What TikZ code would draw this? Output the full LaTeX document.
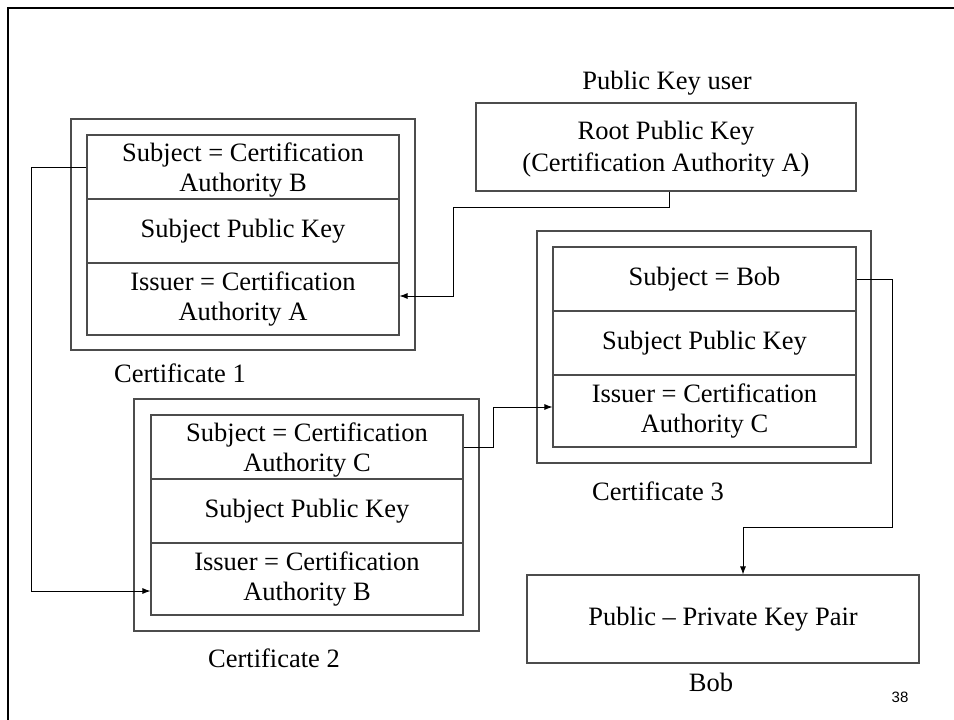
\documentclass[tikz,border=0pt]{standalone}
\usepackage{fontspec}
\setmainfont{Liberation Serif}
\newfontfamily\numfont{Liberation Sans}
\usetikzlibrary{arrows.meta,calc}
\begin{document}
\begin{tikzpicture}[x=1pt,y=-1pt,
  boxline/.style={draw=black!70,line width=1.1pt},
  outerbox/.style={boxline,rectangle,inner sep=0pt},
  rowbox/.style={boxline,rectangle,inner sep=0pt,align=center,font=\fontsize{26.5}{30}\selectfont},
  plain/.style={inner sep=0pt,align=center,font=\fontsize{26.5}{30}\selectfont},
  arr/.style={draw=black,line width=0.9pt,-{Latex[length=8pt,width=6pt]}},
  conn/.style={draw=black,line width=0.9pt}]
\useasboundingbox (0,0) rectangle (954,720);
% slide frame
\draw[line width=2.6pt] (954,8) -- (8,8) -- (8,720);

% Certificate 1
\node[outerbox,minimum width=344pt,minimum height=231pt] (c1o) at (243,234.5) {};
\node[rowbox,minimum width=312pt,minimum height=64pt] (c1s) at (243,167) {\rule{0pt}{24pt}Subject = Certification\\Authority B};
\node[rowbox,minimum width=312pt,minimum height=64pt] (c1k) at (243,231) {Subject Public Key};
\node[rowbox,minimum width=312pt,minimum height=72pt] (c1i) at (243,299) {Issuer = Certification\\Authority A};
\node[plain] (c1l) at (180,373) {Certificate 1};

% Certificate 2
\node[outerbox,minimum width=345pt,minimum height=232pt] (c2o) at (306.5,515) {};
\node[rowbox,minimum width=312pt,minimum height=64pt] (c2s) at (307,447) {\rule{0pt}{24pt}Subject = Certification\\Authority C};
\node[rowbox,minimum width=312pt,minimum height=64pt] (c2k) at (307,511) {Subject Public Key};
\node[rowbox,minimum width=312pt,minimum height=72pt] (c2i) at (307,579) {Issuer = Certification\\Authority B};
\node[plain] (c2l) at (274,658) {Certificate 2};

% Certificate 3
\node[outerbox,minimum width=334pt,minimum height=232pt] (c3o) at (704,347) {};
\node[rowbox,minimum width=303pt,minimum height=64pt] (c3s) at (704.5,279) {Subject = Bob};
\node[rowbox,minimum width=303pt,minimum height=64pt] (c3k) at (704.5,343) {Subject Public Key};
\node[rowbox,minimum width=303pt,minimum height=72pt] (c3i) at (704.5,411) {Issuer = Certification\\Authority C};
\node[plain] (c3l) at (658,491) {Certificate 3};

% Root key
\node[plain] (pku) at (667,83) {Public Key user};
\node[rowbox,minimum width=380pt,minimum height=88pt,font=\fontsize{26.5}{32}\selectfont] (root) at (666,147) {\rule{0pt}{22pt}Root Public Key\\(Certification Authority A)};

% Bob
\node[rowbox,minimum width=392pt,minimum height=88pt] (bob) at (723,619) {Public -- Private Key Pair};
\node[plain] (bobl) at (711,682) {Bob};
\node[inner sep=0pt,font=\numfont\fontsize{15}{18}\selectfont] (pg) at (900,697) {38};

% connectors
\coordinate (r1) at (669,207);
\coordinate (r2) at (453,207);
\draw[arr] (root.south -| r1) -- (r1) -- (r2) |- ($(c1i.east)+(0,-3)$);

\coordinate (a1) at (31,167);
\draw[arr] (c1s.west) -- (a1) |- ($(c2i.west)+(0,12)$);

\coordinate (b1) at (493,447);
\draw[arr] (c2s.east) -- (b1) |- ($(c3i.west)+(0,-4)$);

\coordinate (d1) at (892,279);
\coordinate (d2) at (892,527);
\coordinate (d3) at (743,527);
\draw[arr] (c3s.east) -- (d1) -- (d2) -- (d3) -- (d3 |- bob.north);
\end{tikzpicture}
\end{document}
